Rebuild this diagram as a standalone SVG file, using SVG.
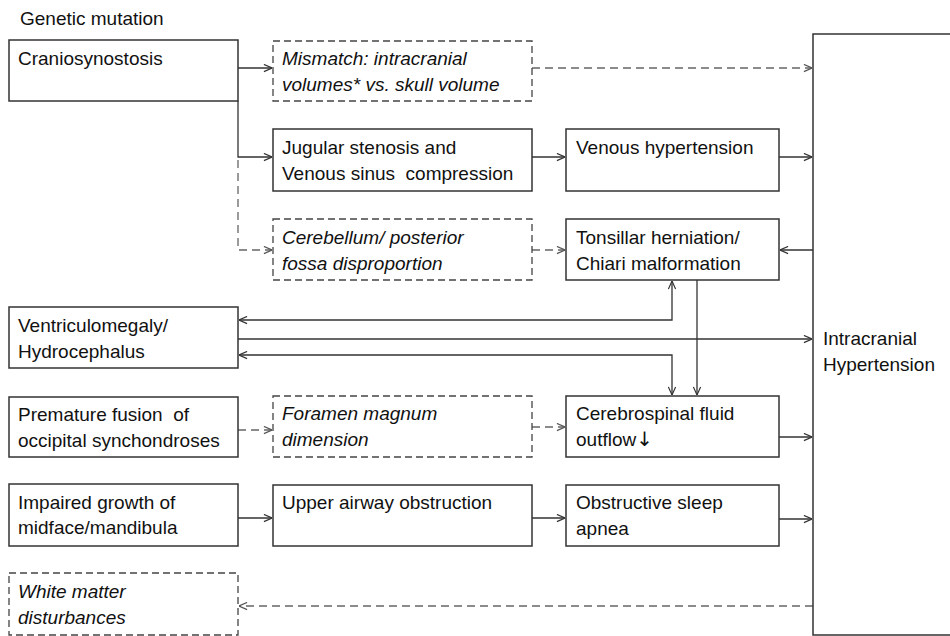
<svg xmlns="http://www.w3.org/2000/svg" width="950" height="636" viewBox="0 0 950 636">
<style>
  .box{fill:#fff;stroke:#333;stroke-width:1.5}
  .dbox{fill:#fff;stroke:#444;stroke-width:1.3;stroke-dasharray:7,4}
  .t{font-family:"Liberation Sans",Arial,sans-serif;font-size:19px;fill:#111;white-space:pre}
  .i{font-style:italic}
  .c{fill:none;stroke:#333;stroke-width:1.3}
  .d{fill:none;stroke:#666;stroke-width:1.3;stroke-dasharray:8,5}
</style>
<defs>
  <marker id="ah" viewBox="0 0 10 10" refX="10" refY="5" markerWidth="9" markerHeight="9" orient="auto-start-reverse" markerUnits="userSpaceOnUse">
    <path d="M1,1 L10,5 L1,9" fill="none" stroke="#333" stroke-width="1.3"/>
  </marker>
  <marker id="ahd" viewBox="0 0 10 10" refX="10" refY="5" markerWidth="9" markerHeight="9" orient="auto-start-reverse" markerUnits="userSpaceOnUse">
    <path d="M1,1 L10,5 L1,9" fill="none" stroke="#555" stroke-width="1.3"/>
  </marker>
</defs>
<rect width="950" height="636" fill="#fff"/>
<text class="t" x="20" y="25">Genetic mutation</text>

<g id="connectors">
  <path class="c" d="M238,68 H272" marker-end="url(#ah)"/>
  <path class="c" d="M238,101 V157 H272" marker-end="url(#ah)"/>
  <path class="d" d="M532,68 H812" marker-end="url(#ahd)"/>
  <path class="c" d="M532,157 H565" marker-end="url(#ah)"/>
  <path class="c" d="M779,157 H812" marker-end="url(#ah)"/>
  <path class="d" d="M238,160 V250 H272" marker-end="url(#ahd)"/>
  <path class="d" d="M532,250 H565" marker-end="url(#ahd)"/>
  <path class="c" d="M813,250 H780" marker-end="url(#ah)"/>
  <path class="c" d="M239,320 H672 V281" marker-start="url(#ah)" marker-end="url(#ah)"/>
  <path class="c" d="M238,339 H812" marker-end="url(#ah)"/>
  <path class="c" d="M239,355 H672 V395" marker-start="url(#ah)" marker-end="url(#ah)"/>
  <path class="c" d="M697,280 V395" marker-end="url(#ah)"/>
  <path class="d" d="M238,430 H272" marker-end="url(#ahd)"/>
  <path class="d" d="M532,427 H565" marker-end="url(#ahd)"/>
  <path class="c" d="M779,437 H812" marker-end="url(#ah)"/>
  <path class="c" d="M238,518 H272" marker-end="url(#ah)"/>
  <path class="c" d="M532,518 H565" marker-end="url(#ah)"/>
  <path class="c" d="M779,519 H812" marker-end="url(#ah)"/>
  <path class="d" d="M813,606 H239" marker-end="url(#ahd)"/>
</g>

<g id="craniosynostosis"><rect class="box" x="9" y="40" width="229" height="61"/><text class="t" x="18" y="65">Craniosynostosis</text></g>
<g id="mismatch"><rect class="dbox" x="273" y="41" width="259" height="60"/><text class="t i" x="282" y="65">Mismatch: intracranial</text><text class="t i" x="282" y="91">volumes* vs. skull volume</text></g>
<g id="jugular"><rect class="box" x="273" y="129" width="259" height="62"/><text class="t" x="282" y="154">Jugular stenosis and</text><text class="t" x="282" y="180">Venous sinus  compression</text></g>
<g id="venous"><rect class="box" x="566" y="129" width="213" height="62"/><text class="t" x="576" y="154">Venous hypertension</text></g>
<g id="cerebellum"><rect class="dbox" x="273" y="219" width="259" height="61"/><text class="t i" x="282" y="244">Cerebellum/ posterior</text><text class="t i" x="282" y="270">fossa disproportion</text></g>
<g id="tonsillar"><rect class="box" x="566" y="219" width="213" height="61"/><text class="t" x="576" y="244">Tonsillar herniation/</text><text class="t" x="576" y="270">Chiari malformation</text></g>
<g id="ventriculomegaly"><rect class="box" x="9" y="307" width="229" height="61"/><text class="t" x="18" y="332">Ventriculomegaly/</text><text class="t" x="18" y="358">Hydrocephalus</text></g>
<g id="premature"><rect class="box" x="9" y="397" width="229" height="60"/><text class="t" x="18" y="421">Premature fusion  of</text><text class="t" x="18" y="447">occipital synchondroses</text></g>
<g id="foramen"><rect class="dbox" x="273" y="396" width="259" height="61"/><text class="t i" x="282" y="420">Foramen magnum</text><text class="t i" x="282" y="446">dimension</text></g>
<g id="csf"><rect class="box" x="566" y="396" width="213" height="61"/><text class="t" x="576" y="420">Cerebrospinal fluid</text><text class="t" x="576" y="446">outflow<tspan font-family="DejaVu Sans" font-size="20px">↓</tspan></text></g>
<g id="impaired"><rect class="box" x="9" y="484" width="229" height="62"/><text class="t" x="18" y="509">Impaired growth of</text><text class="t" x="18" y="534">midface/mandibula</text></g>
<g id="airway"><rect class="box" x="273" y="485" width="259" height="61"/><text class="t" x="282" y="509">Upper airway obstruction</text></g>
<g id="osa"><rect class="box" x="566" y="485" width="213" height="61"/><text class="t" x="576" y="509">Obstructive sleep</text><text class="t" x="576" y="535">apnea</text></g>
<g id="whitematter"><rect class="dbox" x="9" y="573" width="229" height="62"/><text class="t i" x="18" y="598">White matter</text><text class="t i" x="18" y="624">disturbances</text></g>
<g id="ich"><rect class="box" x="813" y="34" width="145" height="601"/><text class="t" x="823" y="345">Intracranial</text><text class="t" x="823" y="371">Hypertension</text></g>
</svg>
